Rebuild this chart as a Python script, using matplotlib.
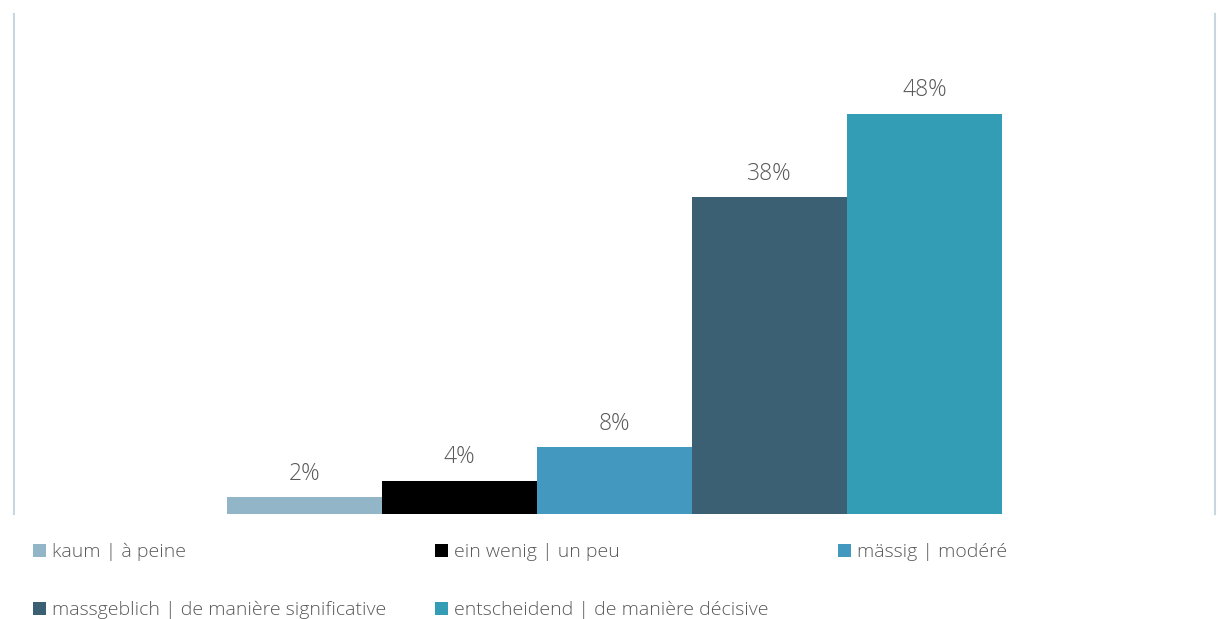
import matplotlib.pyplot as plt
from matplotlib.patches import Patch

labels = ["kaum | à peine", "ein wenig | un peu", "mässig | modéré",
          "massgeblich | de manière significative", "entscheidend | de manière décisive"]
values = [2, 4, 8, 38, 48]
colors = ["#93B5C8", "#000000", "#4398C0", "#3C6073", "#339DB5"]

plt.rcParams['font.family'] = ['Open Sans', 'DejaVu Sans']
text_color = "#595959"

fig = plt.figure(figsize=(12.21, 6.19), dpi=100)
ax = fig.add_axes([14 / 1221, 105 / 619, 1201 / 1221, 500 / 619])

width = 155 / 1201
n = len(values)
for i, (lab, val, col) in enumerate(zip(labels, values, colors)):
    x = (i - (n - 1) / 2) * width
    ax.bar(x, val, width=width, color=col, label=lab)
    ax.annotate(f"{val}%", (x, val), xytext=(0, 17), textcoords="offset points",
                ha="center", va="center", fontsize=16.5, color=text_color,
                fontweight="light")

ax.set_xlim(-0.5, 0.5)
ax.set_ylim(0, 60)
ax.set_xticks([])
ax.set_yticks([])
for side in ["top", "bottom"]:
    ax.spines[side].set_visible(False)
for side in ["left", "right"]:
    ax.spines[side].set_color("#C9D6DE")
    ax.spines[side].set_linewidth(1.5)

# legend laid out row by row in three columns, one legend per column
columns = [[0, 3], [1, 4], [2]]
col_x = [33, 435, 838]
for idxs, cx in zip(columns, col_x):
    handles = [Patch(facecolor=colors[i], label=labels[i]) for i in idxs]
    leg = fig.legend(handles=handles, loc="upper left",
                     bbox_to_anchor=(cx / 1221, 1 - 543 / 619),
                     frameon=False, fontsize=14, handlelength=0.65, handleheight=0.65,
                     handletextpad=0.35, labelspacing=2.05, borderaxespad=0,
                     borderpad=0)
    for t in leg.get_texts():
        t.set_color(text_color)
        t.set_fontweight("light")

fig.savefig("out.png", dpi=100)
